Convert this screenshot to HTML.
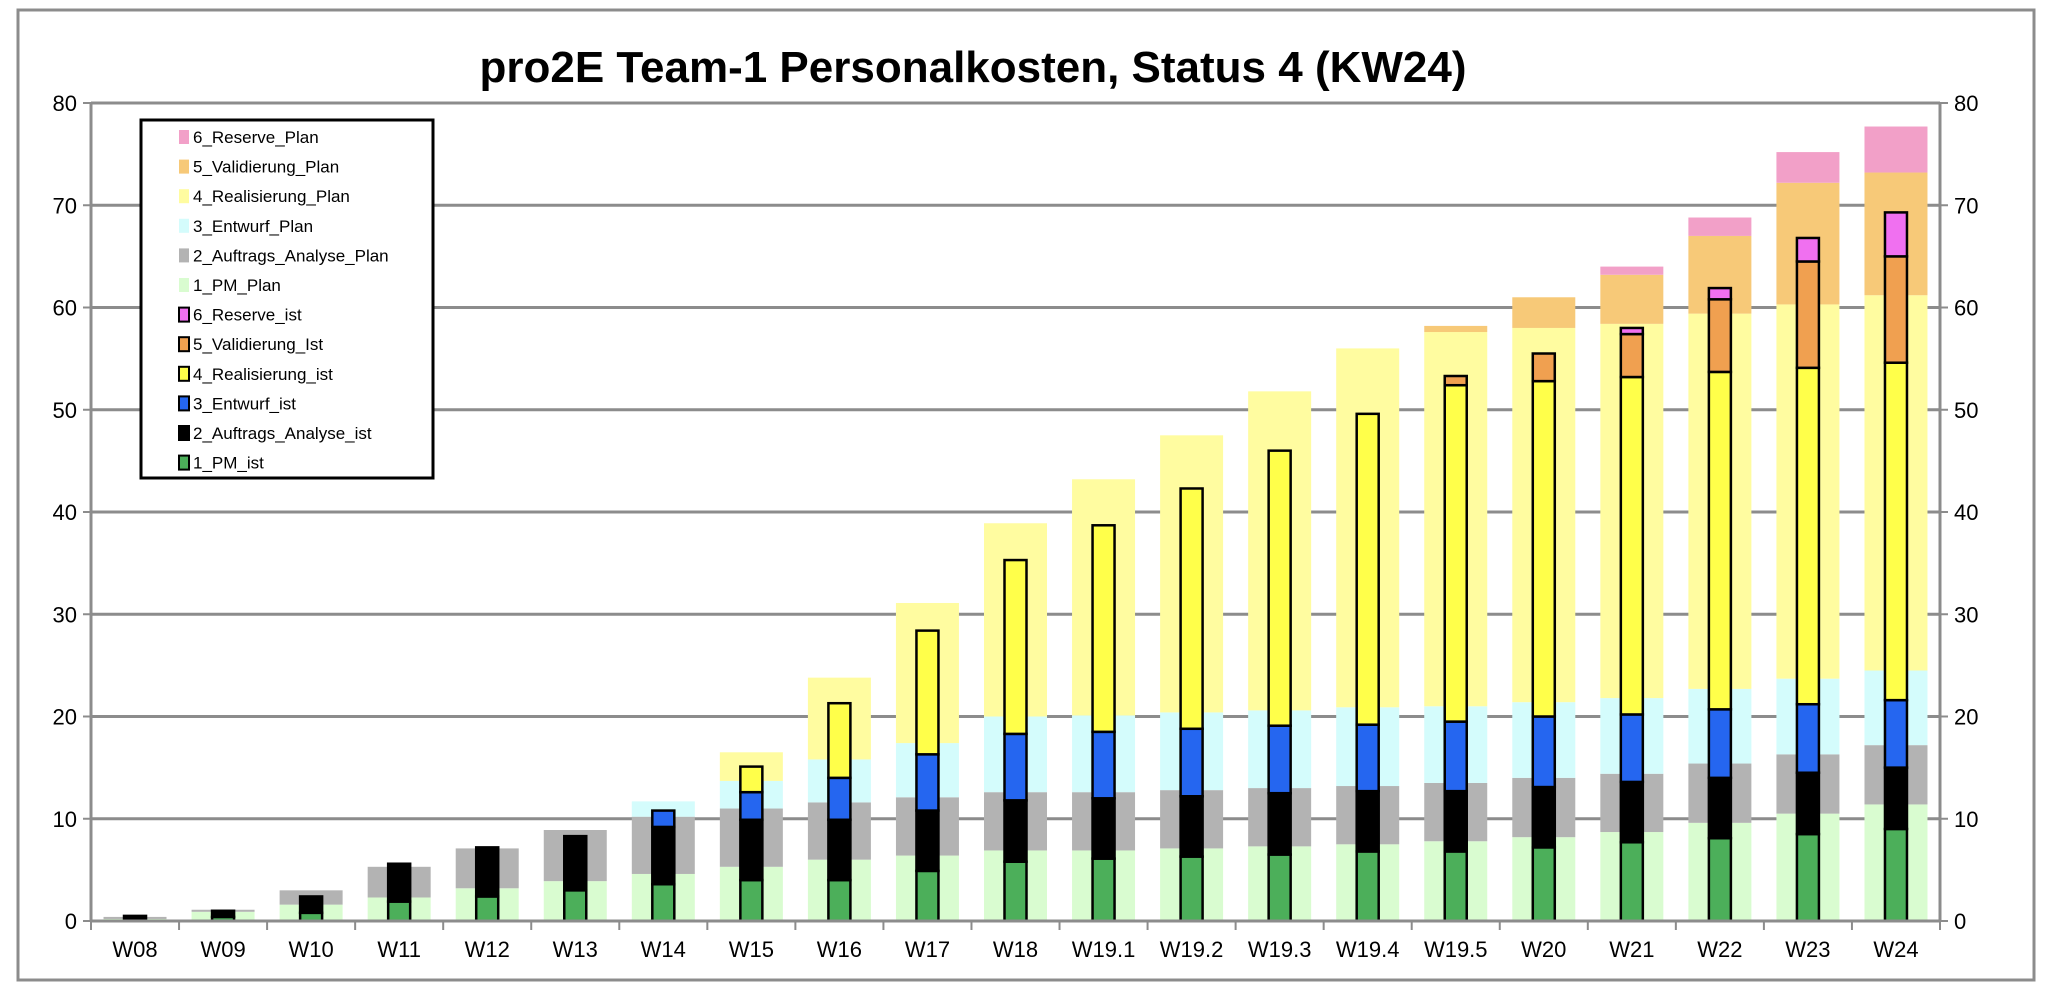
<!DOCTYPE html>
<html><head><meta charset="utf-8"><style>
html,body{margin:0;padding:0;background:#fff;}
svg{display:block;font-family:"Liberation Sans",Arial,sans-serif;}
</style></head><body>
<svg id="chart" width="2052" height="996" viewBox="0 0 2052 996">
<rect x="18" y="10" width="2016" height="970" fill="#fff" stroke="#8c8c8c" stroke-width="3"/>
<text x="973" y="82" text-anchor="middle" font-size="44" font-weight="bold">pro2E Team-1 Personalkosten, Status 4 (KW24)</text>
<g id="grid"></g><g id="bars"></g><g id="axes"></g><g id="legend"></g>
</svg>
<script>
const categories=["W08","W09","W10","W11","W12","W13","W14","W15","W16","W17","W18","W19.1","W19.2","W19.3","W19.4","W19.5","W20","W21","W22","W23","W24"];
const yTicks=[0,10,20,30,40,50,60,70,80];
// cumulative tops of plan stack
const pmPlanTop=[0.2,0.9,1.6,2.3,3.2,3.9,4.6,5.3,6.0,6.4,6.9,6.9,7.1,7.3,7.5,7.8,8.2,8.7,9.6,10.5,11.4];
const aaPlanTop=[0.4,1.1,3.0,5.3,7.1,8.9,10.2,11.0,11.6,12.1,12.6,12.6,12.8,13.0,13.2,13.5,14.0,14.4,15.4,16.3,17.2];
const ePlanTop=[0.4,1.1,3.0,5.3,7.1,8.9,11.7,13.7,15.8,17.4,20.0,20.1,20.4,20.6,20.9,21.0,21.4,21.8,22.7,23.7,24.5];
const rPlanTop=[0.4,1.1,3.0,5.3,7.1,8.9,11.7,16.5,23.8,31.1,38.9,43.2,47.5,51.8,56.0,57.6,58.0,58.4,59.4,60.3,61.2];
const vPlanTop=[0.4,1.1,3.0,5.3,7.1,8.9,11.7,16.5,23.8,31.1,38.9,43.2,47.5,51.8,56.0,58.2,61.0,63.2,67.0,72.2,73.2];
const resPlanTop=[0.4,1.1,3.0,5.3,7.1,8.9,11.7,16.5,23.8,31.1,38.9,43.2,47.5,51.8,56.0,58.2,61.0,64.0,68.8,75.2,77.7];
// cumulative tops of actual (ist) stack
const pmIstTop=[0,0.4,0.8,1.9,2.4,3.0,3.6,4.0,4.0,4.9,5.8,6.1,6.3,6.5,6.8,6.8,7.2,7.7,8.1,8.5,9.0];
const aaIstTop=[0.5,1.0,2.4,5.6,7.2,8.3,9.2,9.9,9.9,10.8,11.8,12.0,12.2,12.5,12.7,12.7,13.1,13.6,14.0,14.5,15.0];
const eIstTop=[0.5,1.0,2.4,5.6,7.2,8.3,10.8,12.6,14.0,16.3,18.3,18.5,18.8,19.1,19.2,19.5,20.0,20.2,20.7,21.2,21.6];
const rIstTop=[0.5,1.0,2.4,5.6,7.2,8.3,10.8,15.1,21.3,28.4,35.3,38.7,42.3,46.0,49.6,52.4,52.8,53.2,53.7,54.1,54.6];
const vIstTop=[0.5,1.0,2.4,5.6,7.2,8.3,10.8,15.1,21.3,28.4,35.3,38.7,42.3,46.0,49.6,53.3,55.5,57.4,60.8,64.5,65.0];
const resIstTop=[0.5,1.0,2.4,5.6,7.2,8.3,10.8,15.1,21.3,28.4,35.3,38.7,42.3,46.0,49.6,53.3,55.5,58.0,61.9,66.8,69.3];

const NS="http://www.w3.org/2000/svg";
const L=91,R=1940,T=103,B=921,YMAX=80;
const band=(R-L)/categories.length;
const y=v=>B-(v/YMAX)*(B-T);
const xc=i=>L+band*(i+0.5);
function mk(tag,attrs,parent){const e=document.createElementNS(NS,tag);for(const k in attrs)e.setAttribute(k,attrs[k]);parent.appendChild(e);return e;}
const grid=document.getElementById('grid'),bars=document.getElementById('bars'),axes=document.getElementById('axes'),legend=document.getElementById('legend');

yTicks.forEach(t=>{
  if(t>0){const g=mk('line',{x1:L,x2:R,y1:y(t),y2:y(t),stroke:'#8c8c8c','stroke-width':3},grid);
  
  }
  const a=mk('text',{x:L-14,y:y(t)+8,'text-anchor':'end','font-size':22},axes);a.textContent=t;
  
  
  const b=mk('text',{x:R+14,y:y(t)+8,'text-anchor':'start','font-size':22},axes);b.textContent=t;
  
  
  mk('line',{x1:L-8,x2:L,y1:y(t),y2:y(t),stroke:'#8c8c8c','stroke-width':2},axes);
  mk('line',{x1:R,x2:R+8,y1:y(t),y2:y(t),stroke:'#8c8c8c','stroke-width':2},axes);
});
mk('line',{x1:L,x2:L,y1:T,y2:B,stroke:'#8c8c8c','stroke-width':3},axes);
mk('line',{x1:R,x2:R,y1:T,y2:B,stroke:'#8c8c8c','stroke-width':3},axes);
mk('line',{x1:L,x2:R,y1:B,y2:B,stroke:'#8c8c8c','stroke-width':3},axes);
categories.forEach((c,i)=>{
  mk('line',{x1:L+band*i,x2:L+band*i,y1:B,y2:B+9,stroke:'#8c8c8c','stroke-width':2},axes);
  const t=mk('text',{x:xc(i),y:B+36,'text-anchor':'middle','font-size':22},axes);t.textContent=c;
  
  
});
mk('line',{x1:R,x2:R,y1:B,y2:B+9,stroke:'#8c8c8c','stroke-width':2},axes);

const planSeries=[["1_PM_Plan",pmPlanTop,"#d9fcd0"],["2_Auftrags_Analyse_Plan",aaPlanTop,"#b3b3b3"],["3_Entwurf_Plan",ePlanTop,"#d4fcfc"],["4_Realisierung_Plan",rPlanTop,"#fffca0"],["5_Validierung_Plan",vPlanTop,"#f7c978"],["6_Reserve_Plan",resPlanTop,"#f2a0c8"]];
const istSeries=[["1_PM_ist",pmIstTop,"#4caf5a"],["2_Auftrags_Analyse_ist",aaIstTop,"#000000"],["3_Entwurf_ist",eIstTop,"#2566f0"],["4_Realisierung_ist",rIstTop,"#ffff4a"],["5_Validierung_Ist",vIstTop,"#f0a050"],["6_Reserve_ist",resIstTop,"#f070f0"]];
const PW=63,IW=22;
categories.forEach((c,i)=>{
  let prev=0;
  planSeries.forEach(s=>{const top=s[1][i];if(top>prev){const r=mk('rect',{x:xc(i)-PW/2,y:y(top),width:PW,height:y(prev)-y(top),fill:s[2]},bars);
    
    }prev=Math.max(prev,top);});
  prev=0;
  istSeries.forEach(s=>{const top=s[1][i];if(top>prev){const r=mk('rect',{x:xc(i)-IW/2,y:y(top),width:IW,height:y(prev)-y(top),fill:s[2],stroke:'#000','stroke-width':2.5},bars);
    
    }prev=Math.max(prev,top);});
});

const lb=mk('rect',{x:141,y:120,width:292,height:358,fill:'#fff',stroke:'#000','stroke-width':3},legend);


const legItems=[...planSeries.slice().reverse().map(s=>[s[0],s[2],false]),...istSeries.slice().reverse().map(s=>[s[0],s[2],true])];
legItems.forEach((it,k)=>{
  const yy=137+k*29.6;
  const sw=mk('rect',{x:179,y:yy-7,width:10,height:14,fill:it[1],stroke:it[2]?'#000':'none','stroke-width':2},legend);
  
  
  const t=mk('text',{x:193,y:yy+6,'font-size':17},legend);t.textContent=it[0];
  
  
});
</script>
</body></html>
